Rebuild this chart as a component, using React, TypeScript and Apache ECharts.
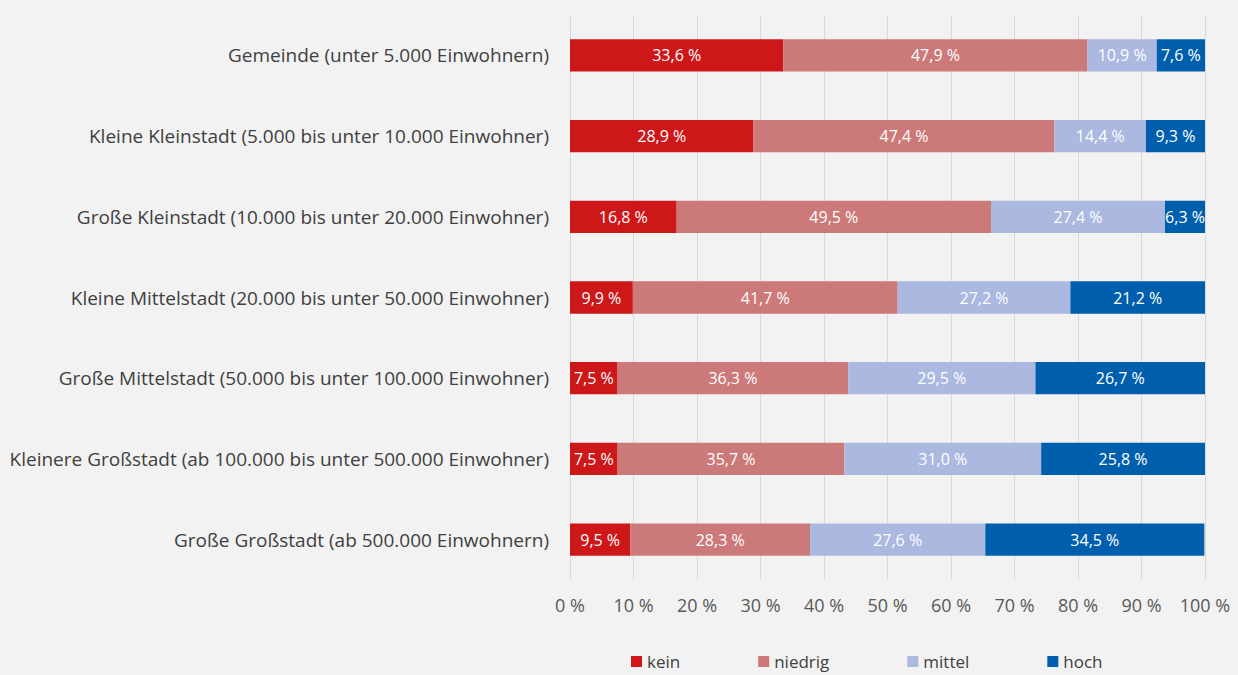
import React, { useEffect, useRef } from "react";
import * as echarts from "echarts";

const categories = [
  "Gemeinde (unter 5.000 Einwohnern)",
  "Kleine Kleinstadt (5.000 bis unter 10.000 Einwohner)",
  "Große Kleinstadt (10.000 bis unter 20.000 Einwohner)",
  "Kleine Mittelstadt (20.000 bis unter 50.000 Einwohner)",
  "Große Mittelstadt (50.000 bis unter 100.000 Einwohner)",
  "Kleinere Großstadt (ab 100.000 bis unter 500.000 Einwohner)",
  "Große Großstadt (ab 500.000 Einwohnern)",
];
const kein = [33.6, 28.9, 16.8, 9.9, 7.5, 7.5, 9.5];
const niedrig = [47.9, 47.4, 49.5, 41.7, 36.3, 35.7, 28.3];
const mittel = [10.9, 14.4, 27.4, 27.2, 29.5, 31.0, 27.6];
const hoch = [7.6, 9.3, 6.3, 21.2, 26.7, 25.8, 34.5];
const seriesNames = ["kein", "niedrig", "mittel", "hoch"];
const colors = ["#cd1719", "#cb7979", "#abb8e0", "#005fad"];

const FONT = "'Open Sans', 'Noto Sans', sans-serif";

export default function App() {
  const ref = useRef<HTMLDivElement>(null);
  useEffect(() => {
    document.body.style.margin = "0";
    const chart = echarts.init(ref.current!, null, { renderer: "svg" });
    const data = [kein, niedrig, mittel, hoch];
    chart.setOption({
      animation: false,
      backgroundColor: "#f2f2f2",
      textStyle: { fontFamily: FONT },
      grid: { left: 570, right: 33, top: 15, bottom: 95 },
      legend: {
        left: 631,
        top: 653,
        padding: 0,
        itemWidth: 11,
        itemHeight: 11,
        itemGap: 78,
        icon: "rect",
        textStyle: { fontSize: 17, color: "#404040", fontFamily: FONT },
        data: seriesNames,
      },
      xAxis: {
        type: "value",
        min: 0,
        max: 100,
        interval: 10,
        axisLine: { show: false },
        axisTick: { show: false },
        splitLine: { show: true, lineStyle: { color: "#d9d9d9", width: 1 } },
        axisLabel: {
          formatter: (v: number) => `${v} %`,
          fontSize: 18,
          color: "#595959",
          margin: 16,
          fontFamily: FONT,
        },
      },
      yAxis: {
        type: "category",
        data: categories,
        inverse: true,
        axisLine: { show: false },
        axisTick: { show: false },
        axisLabel: { fontSize: 19, color: "#404040", margin: 21, fontFamily: FONT },
      },
      series: seriesNames.map((name, i) => ({
        name,
        type: "bar",
        stack: "total",
        barWidth: "40%",
        data: data[i],
        itemStyle: { color: colors[i] },
        label: {
          show: true,
          position: "inside",
          color: "#ffffff",
          fontSize: 16,
          fontFamily: FONT,
          formatter: (p: any) => `${p.value.toFixed(1).replace(".", ",")} %`,
        },
      })),
    });
    return () => chart.dispose();
  }, []);
  return <div ref={ref} style={{ width: 1238, height: 675 }} />;
}
